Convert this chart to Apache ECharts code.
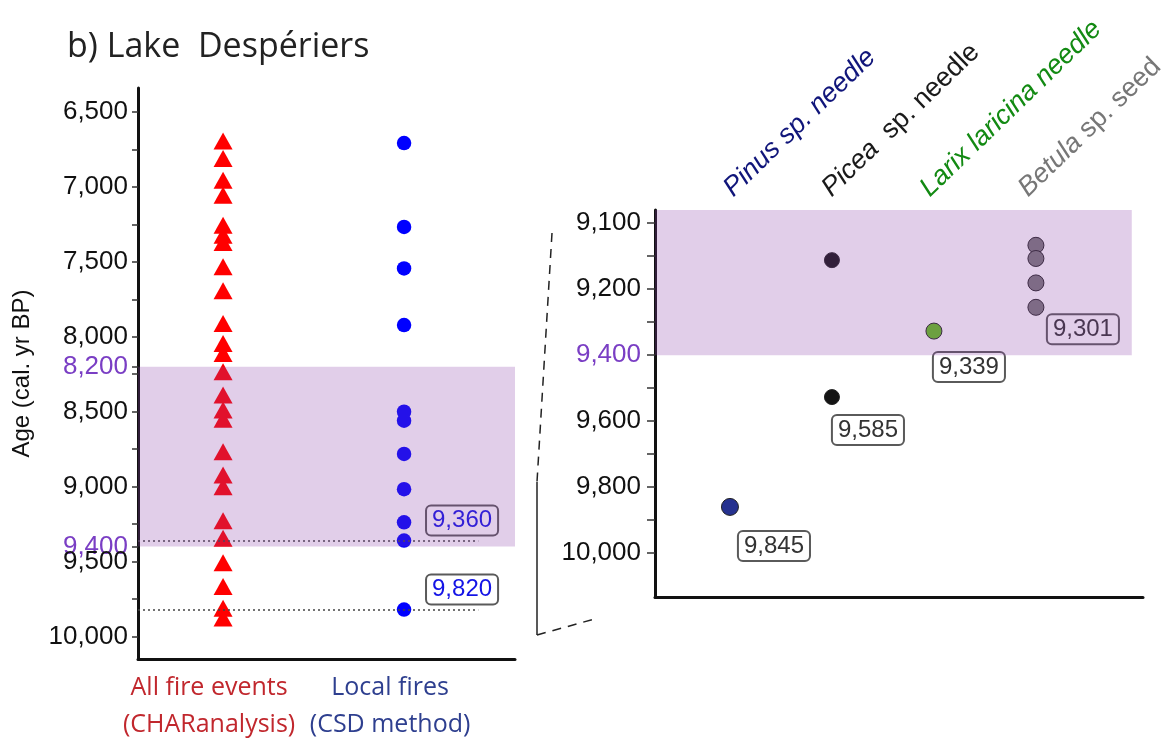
<!DOCTYPE html>
<html><head><meta charset="utf-8">
<script src="https://cdn.jsdelivr.net/npm/echarts@6/dist/echarts.min.js"></script>
<style>html,body{margin:0;padding:0;background:#fff}#c{width:1167px;height:745px}</style>
</head><body><div id="c"></div>
<script>
// ---------- data ----------
const titleText = 'b) Lake  Despériers';
const yAxisTitle = 'Age (cal. yr BP)';
const leftCategories = [['All fire events', '(CHARanalysis)'], ['Local fires', '(CSD method)']];
const allFireAges = [6693, 6811, 6955, 7055, 7255, 7322, 7371, 7533, 7693, 7911, 8044, 8111, 8233,
  8389, 8489, 8551, 8767, 8922, 9000, 9227, 9344, 9507, 9667, 9811, 9877];
const localFireAges = [6707, 7267, 7544, 7922, 8500, 8560, 8782, 9017, 9238, 9360, 9820];
const localFireMarked = [9360, 9820];
const localFireMarkedLabels = ['9,360', '9,820'];
const leftTickValues = [6500, 7000, 7500, 8000, 8200, 8500, 9000, 9400, 9500, 10000];
const leftTickLabels = ['6,500', '7,000', '7,500', '8,000', '8,200', '8,500', '9,000', '9,400', '9,500', '10,000'];
const leftHighlighted = [8200, 9400];
const leftMinorTicks = [6500, 6750, 7000, 7250, 7500, 7750, 8000, 8200, 8250, 8500, 8750, 9000, 9250, 9400, 9500, 9750, 10000];
const leftBand = [8200, 9400];

const rightCategories = ['Pinus', 'Picea', 'Larix', 'Betula'];
const pinusAges = [9860];
const piceaAges = [9112, 9527];
const larixAges = [9327];
const betulaAges = [9067, 9107, 9181, 9255];
const reportedAges = { Pinus: [9860, '9,845'], Picea: [9527, '9,585'], Larix: [9327, '9,339'], Betula: [9255, '9,301'] };
const rightTickValues = [9000, 9200, 9400, 9600, 9800, 10000];
const rightTickLabels = ['9,100', '9,200', '9,400', '9,600', '9,800', '10,000'];
const rightMinorTicks = [9000, 9100, 9200, 9300, 9400, 9500, 9600, 9700, 9800, 9900, 10000];
const rightHighlighted = [9400];
const rightBandEnd = 9400;

// ---------- styles ----------
const PURPLE = '#7a3ec4';
const BAND = 'rgba(140,64,171,0.26)';
const LMIN = -0.47, LMAX = 1.613;
const RMIN = -0.735, RMAX = 4.05, RBANDX = 3.94;
const TMIN = -0.743, TMAX = 4.222;
const YLMIN = 6340, YLMAX = 10150;
const YRMIN = 8960, YRMAX = 10133;

const taxonStyle = {
  Pinus: { color: '#25318f', size: 17, label: [44, 39] },
  Picea: { color: '#141414', size: 15, label: [36, 33] },
  Larix: { color: '#62c21c', size: 16, label: [35, 36] },
  Betula: { color: '#7a7a7a', size: 16, label: [47, 22] }
};
const taxonAges = { Pinus: pinusAges, Picea: piceaAges, Larix: larixAges, Betula: betulaAges };

const boxLabel = (text, color, offset) => ({
  show: true, formatter: text, position: 'inside', offset: offset,
  color: color, fontSize: 24, fontFamily: 'Liberation Sans, Arial',
  padding: [4, 6, 2, 6], borderColor: '#5a5a5a', borderWidth: 1, borderRadius: 5,
  backgroundColor: 'rgba(255,255,255,0)'
});

const rightSeries = rightCategories.map((name, i) => {
  const st = taxonStyle[name];
  return {
    type: 'scatter', name: name, xAxisIndex: 1, yAxisIndex: 1, z: 3,
    symbol: 'circle', symbolSize: st.size,
    itemStyle: { color: st.color, borderColor: '#222', borderWidth: 1, opacity: 1 },
    data: taxonAges[name].map(v => {
      const item = { value: [i, v] };
      if (reportedAges[name][0] === v) item.label = boxLabel(reportedAges[name][1], '#333', st.label);
      return item;
    })
  };
});

const F = 'Liberation Sans, Arial';
const topLabelRich = {
  pinI: { color: '#10157a', fontStyle: 'italic', fontSize: 27, fontFamily: F },
  picI: { color: '#1a1a1a', fontStyle: 'italic', fontSize: 27, fontFamily: F },
  picN: { color: '#1a1a1a', fontSize: 27, fontFamily: F },
  larI: { color: '#138a13', fontStyle: 'italic', fontSize: 27, fontFamily: F },
  betI: { color: '#777777', fontStyle: 'italic', fontSize: 27, fontFamily: F },
  betN: { color: '#777777', fontSize: 27, fontFamily: F }
};
const topLabelText = [
  '{pinI|Pinus sp. needle}',
  '{picI|Picea}{picN|  sp. needle}',
  '{larI|Larix laricina needle}',
  '{betI|Betula}{betN| sp. seed}'
];

const chart = echarts.init(document.getElementById('c'), null, { renderer: 'canvas' });
const option = {
  animation: false,
  backgroundColor: '#fff',
  title: {
    text: titleText, left: 62, top: 25,
    textStyle: { fontFamily: 'Open Sans', fontSize: 34, fontWeight: 'normal', color: '#222' }
  },
  grid: [
    { left: 138, top: 88, width: 377, height: 571, outerBoundsMode: 'none', containLabel: false },
    { left: 655, top: 210, width: 488, height: 387, outerBoundsMode: 'none', containLabel: false }
  ],
  xAxis: [
    {
      gridIndex: 0, type: 'value', min: LMIN, max: LMAX,
      axisLine: { show: true, onZero: false, lineStyle: { color: '#111', width: 3 } },
      axisTick: { show: false }, splitLine: { show: false },
      axisLabel: {
        customValues: [0, 1], margin: 10, padding: [0, 28, 0, 0],
        formatter: v => {
          const c = leftCategories[Math.round(v)];
          const k = Math.round(v) === 0 ? 'r' : 'b';
          return '{' + k + '|' + c[0] + '}\n{' + k + '|' + c[1] + '}';
        },
        rich: {
          r: { color: '#c1272d', fontSize: 25, fontFamily: 'Open Sans', lineHeight: 37 },
          b: { color: '#2e3f8f', fontSize: 25, fontFamily: 'Open Sans', lineHeight: 37 }
        }
      }
    },
    {
      gridIndex: 1, type: 'value', min: RMIN, max: RMAX,
      axisLine: { show: true, onZero: false, lineStyle: { color: '#111', width: 3 } },
      axisTick: { show: false }, splitLine: { show: false }, axisLabel: { show: false }
    },
    {
      gridIndex: 1, type: 'value', position: 'top', min: TMIN, max: TMAX,
      axisLine: { show: false, onZero: false }, axisTick: { show: false }, splitLine: { show: false },
      axisLabel: {
        customValues: [0, 1, 2, 3], rotate: -44, margin: 18,
        formatter: v => topLabelText[Math.round(v)], rich: topLabelRich
      }
    }
  ],
  yAxis: [
    {
      gridIndex: 0, type: 'value', inverse: true, min: YLMIN, max: YLMAX,
      name: yAxisTitle, nameLocation: 'middle', nameGap: 104, nameRotate: 90,
      nameTextStyle: { fontFamily: F, fontSize: 24, color: '#111' },
      axisLine: { show: true, onZero: false, lineStyle: { color: '#111', width: 3 } },
      axisTick: { show: true, customValues: leftMinorTicks, length: 6, lineStyle: { color: '#333', width: 1.5 } },
      splitLine: { show: false },
      axisLabel: {
        customValues: leftTickValues, margin: 10, fontSize: 26, fontFamily: F,
        formatter: v => leftTickLabels[leftTickValues.indexOf(Number(v))],
        color: v => leftHighlighted.indexOf(Number(v)) >= 0 ? PURPLE : '#111'
      }
    },
    {
      gridIndex: 1, type: 'value', inverse: true, min: YRMIN, max: YRMAX,
      axisLine: { show: true, onZero: false, lineStyle: { color: '#111', width: 3 } },
      axisTick: { show: true, customValues: rightMinorTicks, length: 8, lineStyle: { color: '#333', width: 1.5 } },
      splitLine: { show: false },
      axisLabel: {
        customValues: rightTickValues, margin: 14, fontSize: 26, fontFamily: F,
        formatter: v => rightTickLabels[rightTickValues.indexOf(Number(v))],
        color: v => rightHighlighted.indexOf(Number(v)) >= 0 ? PURPLE : '#111'
      }
    }
  ],
  series: [
    {
      type: 'scatter', name: 'All fire events', xAxisIndex: 0, yAxisIndex: 0, z: 3,
      symbol: 'triangle', symbolSize: [19, 17], itemStyle: { color: '#ff0000', opacity: 1 },
      data: allFireAges.map(v => [0, v])
    },
    {
      type: 'scatter', name: 'Local fires', xAxisIndex: 0, yAxisIndex: 0, z: 3,
      symbol: 'circle', symbolSize: 14.5, itemStyle: { color: '#0000ff', opacity: 1 },
      data: localFireAges.map(v => {
        const k = localFireMarked.indexOf(v);
        const item = { value: [1, v] };
        if (k >= 0) item.label = boxLabel(localFireMarkedLabels[k], '#1414e6', [58, -20]);
        return item;
      }),
      markLine: {
        silent: true, symbol: 'none', label: { show: false },
        lineStyle: { color: '#444', width: 1.5, type: [2, 3] },
        data: localFireMarked.map(v => [{ coord: [LMIN, v] }, { coord: [1.41, v] }])
      }
    },
    {
      type: 'scatter', name: 'band-left', xAxisIndex: 0, yAxisIndex: 0, z: 10, data: [],
      markArea: {
        silent: true, z: 10, itemStyle: { color: BAND },
        data: [[{ coord: [LMIN, leftBand[0]] }, { coord: [LMAX, leftBand[1]] }]]
      }
    },
    ...rightSeries,
    {
      type: 'scatter', name: 'band-right', xAxisIndex: 1, yAxisIndex: 1, z: 10, data: [],
      markArea: {
        silent: true, z: 10, itemStyle: { color: BAND },
        data: [[{ coord: [RMIN, YRMIN] }, { coord: [RBANDX, rightBandEnd] }]]
      }
    }
  ],
  graphic: [
    { type: 'line', shape: { x1: 552, y1: 233, x2: 537, y2: 482 }, style: { stroke: '#222', lineWidth: 1.5, lineDash: [9, 7] } },
    { type: 'line', shape: { x1: 537, y1: 482, x2: 537, y2: 635 }, style: { stroke: '#222', lineWidth: 1.5 } },
    { type: 'line', shape: { x1: 537, y1: 635, x2: 598, y2: 618 }, style: { stroke: '#222', lineWidth: 1.5, lineDash: [9, 7] } }
  ]
};
chart.setOption(option);
</script></body></html>
